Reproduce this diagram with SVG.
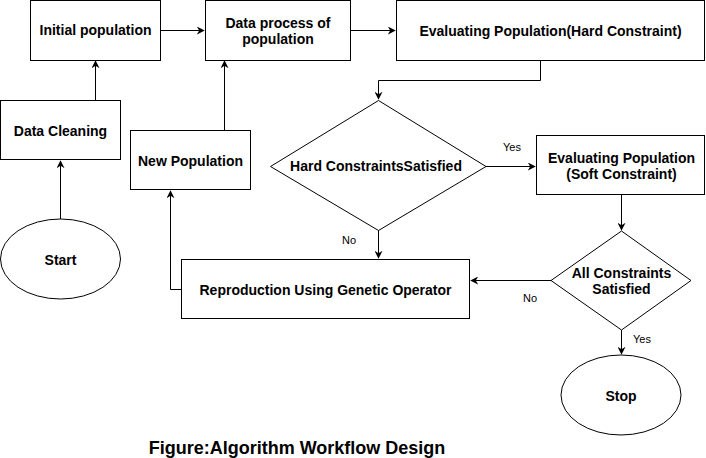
<svg xmlns="http://www.w3.org/2000/svg" width="706" height="458" viewBox="0 0 706 458">
<style>
.n{fill:#fff;stroke:#000;stroke-width:1}
.t{font-family:"Liberation Sans",Arial,sans-serif;font-weight:bold;font-size:14px;fill:#000;text-anchor:middle}
.l{font-family:"Liberation Sans",Arial,sans-serif;font-size:11px;fill:#000;text-anchor:middle}
.c{fill:none;stroke:#000;stroke-width:1}
</style>
<defs>
<marker id="a" viewBox="0 0 10 10" refX="9" refY="5" markerWidth="8" markerHeight="8" markerUnits="userSpaceOnUse" orient="auto">
<path d="M0,0 L10,5 L0,10 L3,5 Z" fill="#000"/>
</marker>
</defs>
<rect width="706" height="458" fill="#fff"/>
<g id="connectors">
<path class="c" d="M60.5,219 V161" marker-end="url(#a)"/>
<path class="c" d="M95.5,100 V61" marker-end="url(#a)"/>
<path class="c" d="M160,30.5 H204" marker-end="url(#a)"/>
<path class="c" d="M350,30.5 H395" marker-end="url(#a)"/>
<path class="c" d="M540.5,60 V80.5 H378.5 V99" marker-end="url(#a)"/>
<path class="c" d="M486,166.5 H535" marker-end="url(#a)"/>
<path class="c" d="M621.5,195 V230" marker-end="url(#a)"/>
<path class="c" d="M551,280.5 H471" marker-end="url(#a)"/>
<path class="c" d="M621.5,330 V354" marker-end="url(#a)"/>
<path class="c" d="M378.5,230 V258" marker-end="url(#a)"/>
<path class="c" d="M181,289.5 H170.5 V191" marker-end="url(#a)"/>
<path class="c" d="M224.5,130 V61" marker-end="url(#a)"/>
<text class="l" x="512" y="151">Yes</text>
<text class="l" x="530" y="302">No</text>
<text class="l" x="642" y="343">Yes</text>
<text class="l" x="349" y="244">No</text>
</g>
<g id="initial"><rect class="n" x="30.5" y="0.5" width="130" height="60"/><text class="t" x="95.5" y="35">Initial population</text></g>
<g id="dataprocess"><rect class="n" x="205.5" y="0.5" width="145" height="60"/><text class="t" x="278" y="28">Data process of</text><text class="t" x="278" y="44">population</text></g>
<g id="evalhard"><rect class="n" x="396.5" y="0.5" width="308" height="60"/><text class="t" x="550.5" y="36">Evaluating Population(Hard Constraint)</text></g>
<g id="cleaning"><rect class="n" x="0.5" y="100.5" width="120" height="59"/><text class="t" x="60.5" y="136">Data Cleaning</text></g>
<g id="newpop"><rect class="n" x="130.5" y="130.5" width="120" height="59"/><text class="t" x="190.5" y="166">New Population</text></g>
<g id="start"><ellipse class="n" cx="60.5" cy="259" rx="60" ry="40"/><text class="t" x="60.5" y="265">Start</text></g>
<g id="hardsat"><path class="n" d="M378.5,100.5 L486,166.5 L378.5,230.5 L270.5,166.5 Z"/><text class="t" x="376" y="171">Hard ConstraintsSatisfied</text></g>
<g id="evalsoft"><rect class="n" x="536.5" y="135.5" width="168" height="59"/><text class="t" x="621.5" y="163">Evaluating Population</text><text class="t" x="621.5" y="179">(Soft Constraint)</text></g>
<g id="allsat"><path class="n" d="M621.5,231 L691,280.5 L621.5,330 L551,280.5 Z"/><text class="t" x="621.5" y="278">All Constraints</text><text class="t" x="621.5" y="294">Satisfied</text></g>
<g id="repro"><rect class="n" x="181.5" y="259.5" width="288" height="59"/><text class="t" x="325.5" y="295">Reproduction Using Genetic Operator</text></g>
<g id="stop"><ellipse class="n" cx="621" cy="395" rx="60" ry="40"/><text class="t" x="621" y="401">Stop</text></g>
<text x="297" y="454" font-family="Liberation Sans,Arial,sans-serif" font-weight="bold" font-size="18" text-anchor="middle">Figure:Algorithm Workflow Design</text>
</svg>
